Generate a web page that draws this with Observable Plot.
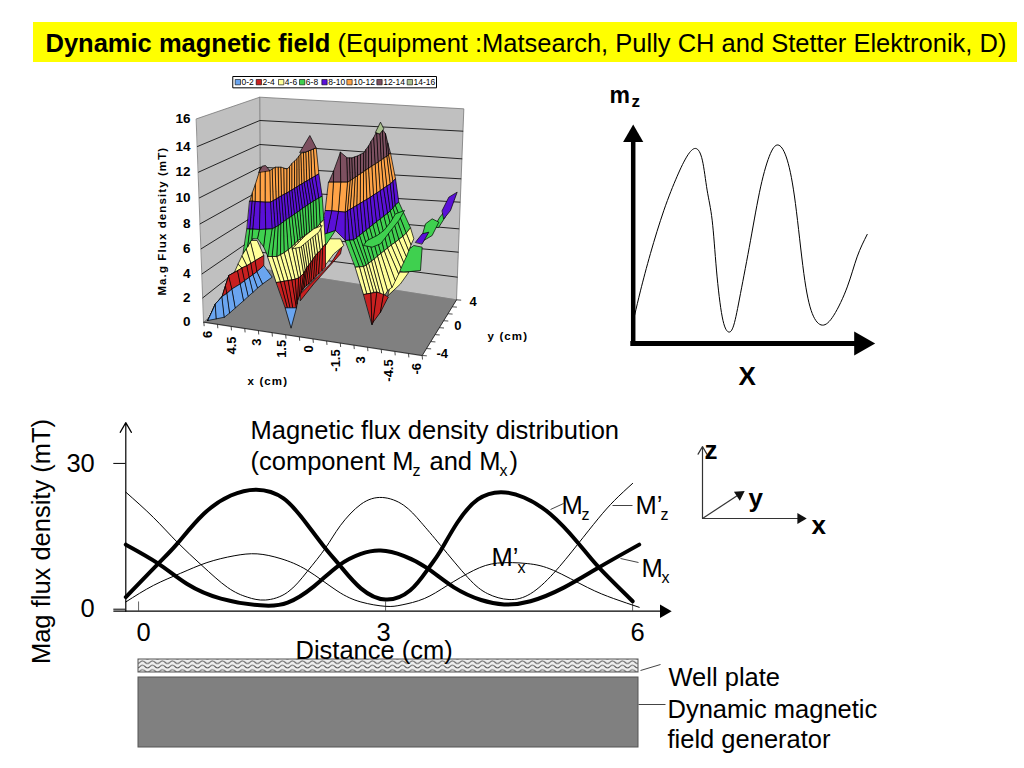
<!DOCTYPE html>
<html><head><meta charset="utf-8">
<script src="https://cdn.jsdelivr.net/npm/d3@7"></script>
<script src="https://cdn.jsdelivr.net/npm/@observablehq/plot@0.6"></script>
<style>
html,body{margin:0;padding:0;background:#fff;width:1024px;height:768px;overflow:hidden}
#stage{position:relative;width:1024px;height:768px}
#stage svg.plt{position:absolute;left:0;top:0}
</style></head><body>
<svg width="0" height="0" style="position:absolute"><defs>
<pattern id="wavy" width="10" height="4.4" patternUnits="userSpaceOnUse">
<rect width="10" height="4.4" fill="#eee"/>
<path d="M0 2.2 q2.5 -2.6 5 0 t5 0" fill="none" stroke="#555" stroke-width="1"/>
</pattern></defs></svg>
<div id="stage"></div>
<script>
// ---------- lower chart: flux density (mT) against distance (cm)
const mzX   = [-0.155,0.24,0.47,0.79,1.12,1.43,1.76,2.05,2.27,2.45,2.7,3.0,3.3,3.52,3.67,3.87,4.12,4.4,4.68,5.0,5.33,5.59,6.0];
const mzV   = [2.9,9.8,13.9,20,23.8,25,23.2,17.8,12.9,9.3,4.7,2.4,4.3,8.8,12.5,18.2,23,24.5,23.4,20,14.2,9,2.05];
const mxX   = [-0.155,0.24,0.59,1.0,1.48,1.81,2.13,2.43,2.7,2.94,3.22,3.51,3.83,4.16,4.44,4.76,5.17,5.59,6.08];
const mxV   = [13.7,9.8,5.6,2.6,1.2,1.75,5.1,9.4,11.8,12.5,11.4,8.8,4.9,2.3,1.4,2.05,4.9,9,13.7];
const mzpX  = [-0.155,0.18,0.47,0.77,1.08,1.32,1.54,1.81,2.05,2.27,2.45,2.7,2.96,3.22,3.43,3.67,4.0,4.24,4.5,4.76,5.04,5.33,5.58,5.78,6.0];
const mzpV  = [24.5,19.3,14.2,9.4,4.9,2.9,2.3,3.9,8.2,13,17.6,22,23.4,21.8,18.3,13.5,6.9,3.6,2.4,3.6,7.8,13.7,19,22.8,26.3];
const mxpX  = [-0.155,0.18,0.51,0.83,1.16,1.44,1.73,2.05,2.41,2.7,3.0,3.2,3.47,3.75,4.07,4.36,4.72,5.04,5.45,5.77,6.08];
const mxpV  = [1.9,5.3,7.8,10,11.4,11.8,10.8,8.4,4.2,1.9,1,1.3,2.6,5.3,8.4,9.9,9.8,8.4,4.9,2.6,0.8];
const distTicks = [0,3,6];
const fluxTicks = [0,30];

// ---------- sketch top right: m_z against x (arbitrary units)
const sketchX = [0.6,3.1,7.2,12.8,18.3,22.5,26,28.8,30.8,32.9,34.7,37.1,39.6,41.9,44.7,48.9,53.1,57.2,60.7,64.2,67.6,71.1,74.6,78.8,83.6,89.2,93.3,97.5];
const sketchY = [13.1,24.7,41.7,61.7,77.4,86.8,90.3,84.9,71,57.1,34,12.3,5.4,8.5,23.1,47.8,72.5,88,91.8,84.9,64.8,32.4,13.9,8.5,13.1,26.2,40.1,50.5];

// ---------- 3D surface legend
const bandLabels = ["0-2","2-4","4-6","6-8","8-10","10-12","12-14","14-16"];
const bandColors = ["#6aa5f0","#c82020","#ffff99","#3fd04f","#5a10d8","#ffa347","#7d5060","#a9c08e"];

// surface strips: ribs run from top to bottom,
// bands[i] is the band between point i and point i+1 of every rib
const ridgeTwoRight = {bands:[6,5,4,3,2], ribs:[
 [[590,262],[592,335],[585,425],[585,510],[615,590],[640,672]],
 [[598,262],[600,330],[592,420],[598,509],[628,589],[650,670]],
 [[605,262],[607,325],[600,416],[610,508],[640,588],[662,668]],
 [[613,259],[615,320],[610,410],[619,501],[648,583],[671,665]],
 [[622,256],[622,315],[620,404],[628,494],[655,578],[680,665]],
 [[631,251],[631,309],[630,398],[638,486],[664,571],[690,670]],
 [[640,247],[640,303],[640,392],[648,478],[672,565],[702,675]],
 [[647,236],[647,298],[650,386],[658,470],[682,556],[712,660]],
 [[655,225],[655,293],[660,380],[668,462],[692,548],[725,650]],
 [[662,212],[665,286],[670,373],[679,453],[702,540],[735,630]],
 [[670,200],[675,280],[680,367],[690,445],[712,532],[745,610]],
 [[679,182],[684,274],[690,360],[701,436],[723,523],[752,592]],
 [[688,165],[693,268],[700,353],[712,428],[735,515],[760,575]],
 [[696,177],[701,262],[710,346],[720,420],[746,506],[768,558]],
 [[705,190],[710,257],[720,340],[728,412],[758,497],[775,540]],
 [[712,218],[715,252],[728,332],[735,403],[768,487],[782,522]],
 [[720,248],[720,248],[735,325],[745,395],[780,472],[790,505]]]};
const ridgeTwoLeft = {bands:[6,5,4], ribs:[
 [[535,335],[535,335],[525,420],[510,495]],
 [[550,300],[550,335],[545,421],[530,490]],
 [[570,245],[572,335],[565,423],[555,480]],
 [[590,262],[592,335],[585,425],[585,510]]]};
const ridgeTwoRed = {bands:[1], ribs:[
 [[640,672],[665,762]],[[662,668],[665,762]],[[680,665],[668,755]],[[700,672],[690,725]],[[714,680],[712,682]]]};
const ridgeOneLeft = {bands:[5,4,3], ribs:[
 [[298,392],[298,392],[290,475],[278,548]],
 [[306,365],[306,392],[299,476],[292,528]],
 [[315,340],[315,393],[308,476],[305,505]],
 [[330,292],[330,394],[328,477],[322,505]],
 [[345,293],[345,395],[347,476],[340,530]],
 [[358,300],[360,395],[365,475],[352,558]]]};
const ridgeOneRight = {bands:[5,4,3,2,1], ribs:[
 [[358,300],[360,395],[365,475],[352,558],[378,636],[405,712]],
 [[366,295],[369,390],[375,470],[366,558],[391,634],[412,713]],
 [[375,290],[378,385],[384,465],[380,558],[402,632],[420,714]],
 [[384,290],[386,380],[392,459],[391,552],[414,630],[428,713]],
 [[392,290],[394,375],[400,453],[402,546],[425,628],[438,712]],
 [[401,293],[402,371],[408,447],[414,537],[435,626],[440,700]],
 [[410,296],[410,367],[417,441],[425,528],[445,622],[442,688]],
 [[418,287],[418,362],[425,436],[434,519],[452,616],[447,676]],
 [[425,278],[425,358],[433,430],[443,510],[460,608],[452,665]],
 [[433,271],[433,353],[441,425],[450,505],[465,599],[457,657]],
 [[440,264],[440,349],[449,419],[456,500],[470,590],[462,650]],
 [[446,256],[447,344],[457,413],[463,495],[476,582],[468,645]],
 [[452,248],[455,340],[465,408],[470,490],[482,575],[475,640]],
 [[460,246],[462,335],[473,402],[478,485],[488,565],[482,632]],
 [[467,244],[470,331],[481,397],[485,480],[495,555],[490,625]],
 [[475,241],[478,326],[489,392],[492,475],[502,547],[497,617]],
 [[482,238],[485,322],[497,387],[500,470],[510,540],[505,610]],
 [[490,235],[495,316],[506,382],[510,458],[517,530],[515,600]],
 [[497,232],[505,310],[515,377],[520,447],[525,520],[525,590]]]};
const leftLobe = {bands:[2,1,0], ribs:[
 [[172,750],[172,750],[172,750],[172,750]],
 [[195,700],[195,700],[195,700],[198,745]],
 [[215,678],[215,678],[215,678],[222,740]],
 [[225,645],[225,645],[230,668],[238,727]],
 [[235,615],[235,615],[245,655],[255,712]],
 [[252,605],[262,600],[270,640],[280,690]],
 [[263,580],[275,592],[283,630],[294,677]],
 [[275,555],[290,585],[297,620],[308,665]],
 [[287,532],[302,578],[308,612],[322,652]],
 [[300,510],[315,570],[320,603],[337,640]],
 [[320,510],[340,555],[340,585],[365,620]]]};
const polys = {
 brownTipOne:[[448,245],[478,195],[497,232],[467,244]],
 brownTipTwo:[[325,305],[335,287],[345,285],[358,300]],
 greenTip:[[675,185],[690,155],[700,175],[688,190]],
 tailPurpleA:[[795,515],[815,490],[835,485],[815,520]],
 tailPurpleB:[[875,420],[895,380],[920,365],[900,420],[880,445]],
 tailGreenA:[[815,495],[825,460],[845,445],[865,455],[845,495],[820,510]],
 tailGreenB:[[850,470],[868,440],[880,425],[884,440],[865,470]],
 lobeGreen:[[725,595],[750,555],[790,525],[815,530],[810,600],[760,605]],
 lobeYellow:[[712,675],[730,605],[775,605],[750,640]],
 chainGreen:[[640,525],[665,530],[690,520],[702,505],[725,475],[745,450],[762,420],[735,430],[720,455],[700,480],[680,495],[650,510]],
 chainYellow:[[425,535],[450,530],[480,505],[505,485],[515,465],[490,475],[465,495],[440,520]],
 midGreen:[[480,570],[510,495],[555,480],[525,525],[510,565]],
 midYellow:[[450,620],[500,570],[535,505],[570,505],[580,525],[550,550],[520,590],[450,660]],
 midRed:[[450,670],[500,620],[540,580],[575,525],[570,550],[530,595],[490,640],[450,690]],
 spikeBlue:[[405,712],[438,712],[422,772]]
};
const stripLayers = [
 ["tailGreenB",3],["tailPurpleB",4],["tailGreenA",3],["tailPurpleA",4],["lobeGreen",3],["lobeYellow",2]
];
const midLayers = [["midRed",1],["midYellow",2],["midGreen",3]];

// walls, floor and mT grid lines of the 3D box
const wallBack = [[328,80],[940,115],[918,688],[330,595]];
const wallLeft = [[138,145],[328,80],[330,595],[160,755]];
const floorPoly = [[160,755],[330,595],[918,688],[815,855]];
const gridLeft  = [[141,228],[144,305],[147,382],[149,460],[152,535],[155,610],[157,682]];
const gridMid   = [[328,150],[328,222],[329,290],[329,360],[329,425],[330,490],[330,545]];
const gridRight = [[937,182],[934,265],[931,325],[928,395],[925,475],[923,545],[920,620]];
const zTicks  = [16,14,12,10,8,6,4,2,0];
const zTickY  = [145,228,305,382,460,535,610,682,755];
const xTickLabels = ["6","4.5","3","1.5","0","-1.5","3","-4.5","-6"];
const xTickPos = [172,245,320,395,475,555,632,715,800];
const xTickY = [792,825,815,835,835,870,868,900,895];
const yTickLabels = ["4","0","-4"];

const FONT = "Liberation Sans, Arial, sans-serif";
const stage = document.getElementById("stage");
function place(svg,l,t){svg.classList.add("plt");svg.style.left=l+"px";svg.style.top=t+"px";stage.appendChild(svg);}
const base = {axis:null,style:{background:"transparent",fontFamily:FONT,overflow:"visible"}};

// ---- surface ----
const px = d=>d[0], py = d=>d[1];
const poly = (pts,fill,strokeWidth=0.7,stroke="#000")=>Plot.line(pts,{x:px,y:py,fill,stroke,strokeWidth,curve:"linear-closed"});
function stripRows(name,s){
 const rows=[];
 s.bands.forEach((b,j)=>{
  for(let i=0;i<s.ribs.length-1;i++){
   const id=name+"-"+j+"-"+i;
   [s.ribs[i][j],s.ribs[i+1][j],s.ribs[i+1][j+1],s.ribs[i][j+1]].forEach(p=>rows.push({id,x:p[0],y:p[1],band:bandLabels[b]}));
  }
 });
 return rows;
}
function polyRows(list){
 return list.flatMap(([n,b])=>polys[n].map(p=>({id:n,x:p[0],y:p[1],band:bandLabels[b]})));
}
const surf = rows=>Plot.line(rows,{x:"x",y:"y",z:"id",fill:"band",stroke:"#000",strokeWidth:0.7,curve:"linear-closed"});
const gridRows = gridLeft.map((p,i)=>[p,gridMid[i],gridRight[i]]);
const lerp=(a,b,t)=>a+(b-a)*t;
const frontTicks=d3.range(17).map(i=>{const t=i/16,x=lerp(160,815,t),y=lerp(755,855,t);return {x,y,x2:x+1,y2:y+12};});
const sideTicks=d3.range(9).map(i=>{const t=i/8,x=lerp(815,918,t),y=lerp(855,688,t);return {x,y,x2:x+14,y2:y+1};});
const legendItems=[262,325,392,455,522,597,687,778].map((x,i)=>({x,label:bandLabels[i]}));

const surface = Plot.plot({...base,width:390,height:330,margin:0,
 x:{domain:[0,1170],range:[0,390]},y:{domain:[0,990],range:[0,330]},
 color:{domain:bandLabels,range:bandColors},
 marks:[
  poly(wallBack,"#c0c0c0",0.8,"#777"),poly(wallLeft,"#c0c0c0",0.8,"#777"),poly(floorPoly,"#808080",0.5,"#808080"),
  ...gridRows.map(g=>Plot.line(g,{x:px,y:py,stroke:"#111",strokeWidth:0.9})),
  Plot.line([[160,755],[815,855],[918,688]],{x:px,y:py,stroke:"#222",strokeWidth:0.9}),
  Plot.link(frontTicks,{x1:"x",y1:"y",x2:"x2",y2:"y2",stroke:"#222",strokeWidth:0.8}),
  Plot.link(sideTicks,{x1:"x",y1:"y",x2:"x2",y2:"y2",stroke:"#222",strokeWidth:0.8}),
  surf(polyRows(stripLayers)),
  surf(stripRows("r2l",ridgeTwoLeft)),
  surf(stripRows("r2r",ridgeTwoRight)),
  surf(stripRows("r2red",ridgeTwoRed)),
  surf(polyRows([["greenTip",7],["chainGreen",3]])),
  surf(polyRows(midLayers)),
  surf(stripRows("lobe",leftLobe)),
  surf(stripRows("r1r",ridgeOneRight)),
  surf(stripRows("r1l",ridgeOneLeft)),
  surf(polyRows([["brownTipOne",6],["brownTipTwo",6],["spikeBlue",0],["chainYellow",2]])),
  // tick labels
  Plot.text(zTicks,{x:()=>120,y:(d,i)=>zTickY[i],text:d=>String(d),textAnchor:"end",fontSize:13.5,fontWeight:"bold"}),
  Plot.text(xTickLabels,{x:(d,i)=>xTickPos[i],y:(d,i)=>xTickY[i],text:d=>d,rotate:-90,fontSize:13,fontWeight:"bold"}),
  Plot.text(yTickLabels,{x:(d,i)=>[968,922,875][i],y:(d,i)=>[695,767,850][i],text:d=>d,fontSize:13,fontWeight:"bold"}),
  Plot.text(["Ma.g Flux density (mT)"],{x:()=>35,y:()=>452,text:d=>d,rotate:-90,fontSize:11.5,fontWeight:"bold"}),
  Plot.text(["x (cm)"],{x:()=>352,y:()=>932,text:d=>d,fontSize:11.5,fontWeight:"bold"}),
  Plot.text(["y (cm)"],{x:()=>1072,y:()=>797,text:d=>d,fontSize:11.5,fontWeight:"bold"}),
  // legend
  poly([[248,18],[858,18],[858,52],[248,52]],"#fff",1,"#000"),
  Plot.dot(legendItems,{x:"x",y:()=>35,fill:"label",stroke:"#000",strokeWidth:0.6,symbol:"square",r:3}),
  Plot.text(legendItems,{x:d=>d.x+11,y:()=>35,text:"label",textAnchor:"start",fontSize:8.5})
 ]});
surface.querySelectorAll("text").forEach(t=>{if(/cm|Flux/.test(t.textContent))t.style.letterSpacing="1.1px";});
place(surface,150,70);

// ---- m_z sketch ----
const sketchRows = sketchX.map((x,i)=>({x,y:sketchY[i]}));
const sketch = Plot.plot({...base,width:290,height:260,marginLeft:32.7,marginRight:17.3,marginTop:27,marginBottom:17,
 x:{domain:[0,100]},y:{domain:[0,100]},
 marks:[
  Plot.line(sketchRows,{x:"x",y:"y",curve:"natural",stroke:"#000",strokeWidth:1}),
  Plot.ruleX([0],{y1:0,y2:96,strokeWidth:4.5}),
  Plot.ruleY([0],{x1:-1,x2:94,strokeWidth:5}),
  Plot.dot([[0,96]],{x:px,y:py,symbol:"triangle",r:7.5,fill:"#000"}),
  Plot.dot([[95,0]],{x:px,y:py,symbol:"triangle",r:9,fill:"#000",rotate:90})
 ]});
place(sketch,600,100);

// ---- lower chart ----
const rows=(X,V)=>X.map((x,i)=>({x,v:V[i]}));
const chart = Plot.plot({...base,axis:undefined,width:700,height:768,marginLeft:125.3,marginRight:30,marginTop:422,marginBottom:157.3,
 x:{domain:[-0.155,6.46],axis:null},y:{domain:[0,38.83],axis:null},
 marks:[
  Plot.axisY({ticks:fluxTicks,tickSize:12,tickPadding:19,fontSize:25.5,label:null,tickFormat:d=>String(d),dy:-2}),
  Plot.ruleX(distTicks,{y1:0,y2:1.9,stroke:"#666",strokeWidth:1}),
  Plot.line(rows(mzpX,mzpV),{x:"x",y:"v",curve:"natural",stroke:"#000",strokeWidth:1}),
  Plot.line(rows(mxpX,mxpV),{x:"x",y:"v",curve:"natural",stroke:"#000",strokeWidth:1}),
  Plot.line(rows(mzX,mzV),{x:"x",y:"v",curve:"natural",stroke:"#000",strokeWidth:4}),
  Plot.line(rows(mxX,mxV),{x:"x",y:"v",curve:"natural",stroke:"#000",strokeWidth:4}),
  Plot.ruleY([0],{x1:-0.3,x2:6.35,stroke:"#000",strokeWidth:1.2}),
  Plot.arrow([{a:0,b:38.8}],{x1:()=>-0.155,y1:"a",x2:()=>-0.155,y2:"b",bend:0,headLength:14,headAngle:60,strokeWidth:1.2,stroke:"#000"}),
  Plot.dot([[6.38,0]],{x:px,y:py,symbol:"triangle",r:5,fill:"#000",rotate:90})
 ]});
place(chart,0,0);

// ---- annotations, diagram and banner on a page-sized frame ----
const FS=25.5, SUB=16;
const labels = [
 {x:337,y:43,t:"(Equipment :Matsearch, Pully CH and Stetter Elektronik, D)",fs:FS},
 {x:250,y:430,t:"Magnetic flux density distribution",fs:FS},
 {x:250,y:461,t:"(component M",fs:FS},
 {x:412,y:470,t:"z",fs:SUB},
 {x:429,y:461,t:"and M",fs:FS},
 {x:499,y:470,t:"x",fs:SUB},
 {x:509,y:461,t:")",fs:FS},
 {x:561,y:505,t:"M",fs:FS},{x:581,y:514,t:"z",fs:SUB},
 {x:635,y:505,t:"M’",fs:FS},{x:660,y:514,t:"z",fs:SUB},
 {x:491,y:557,t:"M’",fs:FS},{x:517,y:567,t:"x",fs:SUB},
 {x:641,y:568,t:"M",fs:FS},{x:661,y:577,t:"x",fs:SUB},
 {x:136,y:632,t:"0",fs:FS},{x:376,y:632,t:"3",fs:FS},{x:630,y:632,t:"6",fs:FS},
 {x:295,y:650,t:"Distance (cm)",fs:FS},
 {x:668,y:677,t:"Well plate",fs:FS},
 {x:667,y:709,t:"Dynamic magnetic",fs:FS},
 {x:667,y:739,t:"field generator",fs:FS}
];
const boldLabels = [
 {x:45,y:43,t:"Dynamic magnetic field",fs:FS},
 {x:609,y:95,t:"m",fs:23},{x:631,y:101,t:"z",fs:17},
 {x:738,y:376,t:"X",fs:26},
 {x:704,y:450,t:"z",fs:26},
 {x:748,y:498,t:"y",fs:26},
 {x:811,y:525,t:"x",fs:26}
];
const leaders=[
 {x1:550,y1:509,x2:563,y2:503},{x1:612,y1:505,x2:632,y2:505},{x1:620,y1:558,x2:638,y2:562},
 {x1:640,y1:670,x2:660,y2:664},{x1:638,y1:704,x2:665,y2:704}
];
const triad=[{x1:702,y1:518,x2:802,y2:518},{x1:702,y1:518,x2:740,y2:493}];
const note = Plot.plot({...base,width:1024,height:768,margin:0,
 x:{domain:[0,1024],range:[0,1024]},y:{domain:[0,768],range:[0,768]},
 marks:[
  Plot.rect([{a:33,b:1017,c:22,d:62}],{x1:"a",x2:"b",y1:"c",y2:"d",fill:"#ffff00"}),
  Plot.rect([{a:138,b:638,c:659,d:672}],{x1:"a",x2:"b",y1:"c",y2:"d",fill:"url(#wavy)",stroke:"#555",strokeWidth:1}),
  Plot.rect([{a:138,b:638,c:677,d:747}],{x1:"a",x2:"b",y1:"c",y2:"d",fill:"#808080",stroke:"#555",strokeWidth:1}),
  Plot.link(leaders,{x1:"x1",y1:"y1",x2:"x2",y2:"y2",stroke:"#444",strokeWidth:1}),
  Plot.arrow([{x1:702,y1:518,x2:702,y2:446}],{x1:"x1",y1:"y1",x2:"x2",y2:"y2",bend:0,headLength:11,headAngle:60,stroke:"#333",strokeWidth:1.2}),
  Plot.link(triad,{x1:"x1",y1:"y1",x2:"x2",y2:"y2",stroke:"#333",strokeWidth:1.2}),
  Plot.dot([[800,518]],{x:px,y:py,symbol:"triangle",r:4,fill:"#111",rotate:90}),
  Plot.dot([[739,494]],{x:px,y:py,symbol:"triangle",r:4,fill:"#111",rotate:57}),
  Plot.text(labels,{x:"x",y:"y",text:"t",fontSize:"fs",textAnchor:"start",lineAnchor:"middle"}),
  Plot.text(boldLabels,{x:"x",y:"y",text:"t",fontSize:"fs",fontWeight:"bold",textAnchor:"start",lineAnchor:"middle"}),
  Plot.text(["Mag flux density (mT)"],{x:()=>41,y:()=>541,text:d=>d,rotate:-90,fontSize:FS})
 ]});
place(note,0,0);
</script></body></html>
